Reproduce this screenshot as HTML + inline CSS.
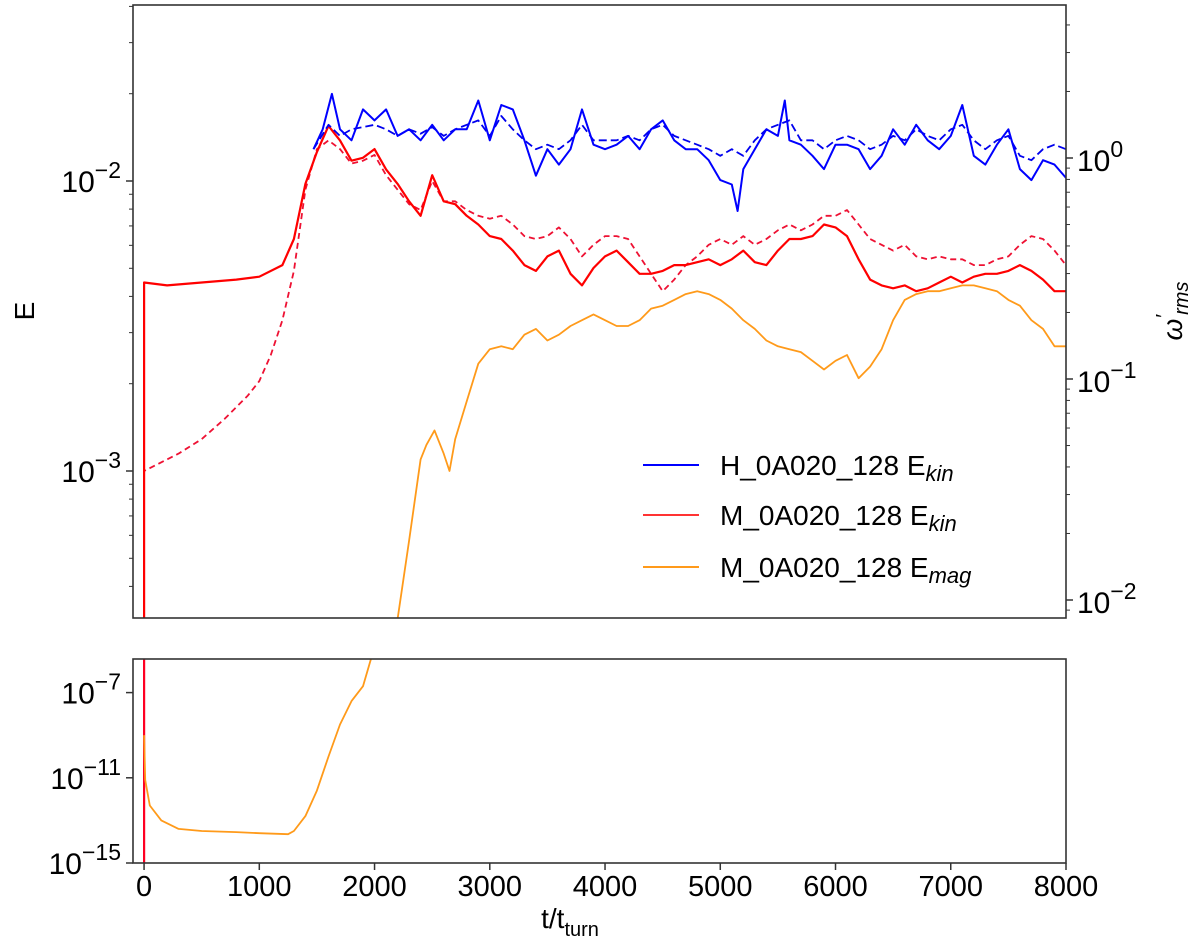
<!DOCTYPE html>
<html><head><meta charset="utf-8"><style>
html,body{margin:0;padding:0;background:#fff;}
svg{display:block;font-family:"Liberation Sans","DejaVu Sans",sans-serif;}
</style></head><body>
<svg id="chart" width="1200" height="952" viewBox="0 0 1200 952"></svg>
<script>
// ---- data (log10 values) ----
const tRedKin=[0,0,200,500,800,1000,1200,1300,1400,1500,1600,1700,1800,1900,2000,2100,2200,2300,2400,2500,2600,2700,2800,2900,3000,3100,3200,3300,3400,3500,3600,3700,3800,3900,4000,4100,4200,4300,4400,4500,4600,4700,4800,4900,5000,5100,5200,5300,5400,5500,5600,5700,5800,5900,6000,6100,6200,6300,6400,6500,6600,6700,6800,6900,7000,7100,7200,7300,7400,7500,7600,7700,7800,7900,8000];
const redKinLog=[-3.6,-2.35,-2.36,-2.35,-2.34,-2.33,-2.29,-2.20,-2.01,-1.90,-1.81,-1.86,-1.93,-1.92,-1.89,-1.96,-2.01,-2.07,-2.12,-1.98,-2.07,-2.08,-2.12,-2.15,-2.19,-2.20,-2.24,-2.29,-2.31,-2.26,-2.24,-2.32,-2.36,-2.30,-2.26,-2.24,-2.28,-2.32,-2.32,-2.31,-2.29,-2.29,-2.28,-2.27,-2.29,-2.27,-2.24,-2.28,-2.29,-2.24,-2.20,-2.20,-2.19,-2.15,-2.16,-2.19,-2.27,-2.34,-2.36,-2.37,-2.36,-2.38,-2.37,-2.35,-2.33,-2.35,-2.33,-2.32,-2.32,-2.31,-2.29,-2.31,-2.34,-2.38,-2.38];
const tRedDash=[0,0,100,300,500,700,900,1000,1100,1200,1300,1400,1500,1600,1700,1800,1900,2000,2100,2200,2300,2400,2500,2600,2700,2800,2900,3000,3100,3200,3300,3400,3500,3600,3700,3800,3900,4000,4100,4200,4300,4400,4500,4600,4700,4800,4900,5000,5100,5200,5300,5400,5500,5600,5700,5800,5900,6000,6100,6200,6300,6400,6500,6600,6700,6800,6900,7000,7100,7200,7300,7400,7500,7600,7700,7800,7900,8000];
const redDashLog=[-3.6,-3.00,-2.98,-2.94,-2.89,-2.82,-2.74,-2.69,-2.60,-2.48,-2.31,-2.03,-1.89,-1.86,-1.89,-1.94,-1.93,-1.91,-1.98,-2.03,-2.08,-2.10,-2.00,-2.07,-2.07,-2.10,-2.12,-2.13,-2.12,-2.15,-2.19,-2.20,-2.19,-2.16,-2.20,-2.26,-2.22,-2.19,-2.19,-2.20,-2.26,-2.32,-2.38,-2.34,-2.29,-2.26,-2.22,-2.20,-2.22,-2.19,-2.22,-2.20,-2.17,-2.15,-2.17,-2.15,-2.12,-2.12,-2.10,-2.15,-2.20,-2.22,-2.24,-2.22,-2.26,-2.27,-2.26,-2.27,-2.27,-2.29,-2.29,-2.27,-2.26,-2.22,-2.19,-2.20,-2.24,-2.29];
const tBlue=[1470,1550,1630,1700,1800,1900,2000,2100,2200,2300,2400,2500,2600,2700,2800,2900,3000,3100,3200,3300,3400,3500,3600,3700,3800,3900,4000,4100,4200,4300,4400,4500,4600,4700,4800,4900,5000,5100,5150,5200,5300,5400,5500,5560,5600,5700,5800,5900,6000,6100,6200,6300,6400,6500,6600,6700,6800,6900,7000,7100,7200,7300,7400,7500,7600,7700,7800,7900,8000];
const blueLog=[0.04,0.13,0.29,0.13,0.08,0.22,0.17,0.22,0.10,0.13,0.08,0.15,0.08,0.13,0.13,0.26,0.08,0.24,0.22,0.08,-0.08,0.04,-0.03,0.04,0.22,0.06,0.04,0.06,0.10,0.04,0.13,0.17,0.08,0.04,0.04,-0.01,-0.10,-0.12,-0.24,-0.05,0.04,0.13,0.10,0.26,0.08,0.06,0.01,-0.05,0.06,0.06,0.04,-0.05,0.01,0.13,0.06,0.15,0.08,0.04,0.10,0.24,0.01,-0.03,0.06,0.13,-0.05,-0.10,-0.01,-0.03,-0.09];
const tBlueDash=[1470,1600,1700,1800,1900,2000,2100,2200,2300,2400,2500,2600,2700,2800,2900,3000,3100,3200,3300,3400,3500,3600,3700,3800,3900,4000,4100,4200,4300,4400,4500,4600,4700,4800,4900,5000,5100,5200,5300,5400,5500,5600,5700,5800,5900,6000,6100,6200,6300,6400,6500,6600,6700,6800,6900,7000,7100,7200,7300,7400,7500,7600,7700,7800,7900,8000];
const blueDashLog=[0.04,0.15,0.10,0.13,0.14,0.15,0.13,0.10,0.13,0.11,0.14,0.10,0.13,0.15,0.17,0.10,0.19,0.13,0.08,0.04,0.06,0.04,0.08,0.15,0.08,0.08,0.08,0.10,0.08,0.13,0.15,0.10,0.08,0.06,0.04,0.01,0.04,0.01,0.08,0.13,0.15,0.17,0.08,0.08,0.04,0.08,0.10,0.08,0.04,0.06,0.10,0.08,0.13,0.10,0.08,0.13,0.15,0.08,0.04,0.08,0.10,0.01,-0.01,0.04,0.06,0.04];
const tMag=[2200,2300,2400,2450,2520,2600,2650,2700,2800,2900,3000,3100,3200,3300,3400,3500,3600,3700,3800,3900,4000,4100,4200,4300,4400,4500,4600,4700,4800,4900,5000,5100,5200,5300,5400,5500,5600,5700,5800,5900,6000,6100,6200,6300,6400,6500,6600,6700,6800,6900,7000,7100,7200,7300,7400,7500,7600,7700,7800,7900,8000];
const magLog=[-3.51,-3.24,-2.96,-2.91,-2.86,-2.94,-3.00,-2.89,-2.76,-2.63,-2.58,-2.57,-2.58,-2.53,-2.51,-2.55,-2.53,-2.50,-2.48,-2.46,-2.48,-2.50,-2.50,-2.48,-2.44,-2.43,-2.41,-2.39,-2.38,-2.39,-2.41,-2.44,-2.48,-2.51,-2.55,-2.57,-2.58,-2.59,-2.62,-2.65,-2.62,-2.60,-2.68,-2.64,-2.58,-2.48,-2.41,-2.39,-2.38,-2.38,-2.37,-2.36,-2.36,-2.37,-2.38,-2.41,-2.43,-2.48,-2.51,-2.57,-2.57];
const tMagEarly=[0,10,50,150,300,500,800,1000,1250,1300,1400,1500,1600,1700,1800,1900,1970];
const magEarlyLog=[-9.0,-11.1,-12.3,-13.0,-13.4,-13.5,-13.55,-13.6,-13.65,-13.5,-12.8,-11.6,-10.0,-8.5,-7.4,-6.7,-5.4];
const xTicks=[0,1000,2000,3000,4000,5000,6000,7000,8000];
const leftTicks=[-2,-3];
const rightTicks=[0,-1,-2];
const bottomTicks=[-7,-11,-15];

// ---- scales ----
const X0=133,X1=1066,T0=-96,T1=8000;
const sx=t=>X0+(t-T0)/(T1-T0)*(X1-X0);
const MT=5,MB=618;
const sL=l=>181-(l+2)*290;
const sR=l=>158-l*221;
const BT=659,BB=863;
const sB=l=>863-(l+15)*21.3;

const svg=document.getElementById('chart');
const NS='http://www.w3.org/2000/svg';
function mk(tag,attrs,parent){const e=document.createElementNS(NS,tag);for(const k in attrs)e.setAttribute(k,attrs[k]);(parent||svg).appendChild(e);return e;}

const defs=mk('defs',{});
const c1=mk('clipPath',{id:'cm'},defs);mk('rect',{x:X0,y:MT,width:X1-X0,height:MB-MT},c1);
const c2=mk('clipPath',{id:'cb'},defs);mk('rect',{x:X0,y:BT,width:X1-X0,height:BB-BT},c2);

function line(ts,vs,scale,color,dash,clip,name,w){
  const d=ts.map((t,i)=>(i?'L':'M')+sx(t).toFixed(1)+','+scale(vs[i]).toFixed(1)).join('');
  const p=mk('path',{d:d,fill:'none',stroke:color,'stroke-width':w||2,'clip-path':'url(#'+clip+')','stroke-linejoin':'round'});
  if(dash)p.setAttribute('stroke-dasharray',dash);
  
  
}
line(tMag,magLog,sL,'#ff9a1a',null,'cm','mag-energy-line',1.8);
line(tRedDash,redDashLog,sL,'#ee1133','6,4','cm','red-kin-dashed-line',1.8);
line(tRedKin,redKinLog,sL,'#ff0000',null,'cm','red-kin-line',2.2);
line(tBlueDash,blueDashLog,sR,'#0000ee','8,4','cm','blue-omega-dashed-line',1.8);
line(tBlue,blueLog,sR,'#0000ff',null,'cm','blue-kin-line',2);
line([0,0],[-15,-5],sB,'#ff0022',null,'cb','red-spike-bottom',2.2);
line(tMagEarly,magEarlyLog,sB,'#ff9a1a',null,'cb','mag-energy-early-line',1.8);

mk('rect',{x:X0,y:MT,width:X1-X0,height:MB-MT,fill:'none',stroke:'#333','stroke-width':1.6});
mk('rect',{x:X0,y:BT,width:X1-X0,height:BB-BT,fill:'none',stroke:'#333','stroke-width':1.6});

function txt(x,y,s,anchor,size,name){const e=mk('text',{x:x,y:y,'text-anchor':anchor,'font-size':size,fill:'#000'});e.innerHTML=s;return e;}
xTicks.forEach(t=>{const x=sx(t);mk('line',{x1:x,y1:BB,x2:x,y2:BB+7,stroke:'#333','stroke-width':1.5});txt(x,BB+33,t,'middle',29,'x-tick-label');});
leftTicks.forEach(l=>{const y=sL(l);mk('line',{x1:X0-7,y1:y,x2:X0,y2:y,stroke:'#333','stroke-width':1.5});txt(X0-12,y+11,'10<tspan dy="-14" font-size="23">−'+(-l)+'</tspan>','end',30,'left-tick-label');});
for(let d=-4;d<=-2;d++)for(let m=2;m<10;m++){const l=d+Math.log10(m);const y=sL(l);if(y>MT&&y<MB)mk('line',{x1:X0-4,y1:y,x2:X0,y2:y,stroke:'#333','stroke-width':1});}
rightTicks.forEach(l=>{const y=sR(l);mk('line',{x1:X1,y1:y,x2:X1+7,y2:y,stroke:'#333','stroke-width':1.5});txt(X1+11,y+13,'10<tspan dy="-14" font-size="23">'+(l<0?'−'+(-l):'0')+'</tspan>','start',30,'right-tick-label');});
for(let d=-3;d<=0;d++)for(let m=2;m<10;m++){const l=d+Math.log10(m);const y=sR(l);if(y>MT&&y<MB)mk('line',{x1:X1,y1:y,x2:X1+4,y2:y,stroke:'#333','stroke-width':1});}
bottomTicks.forEach(l=>{const y=sB(l);mk('line',{x1:X0-7,y1:y,x2:X0,y2:y,stroke:'#333','stroke-width':1.5});txt(X0-12,y+11,'10<tspan dy="-14" font-size="23">−'+(-l)+'</tspan>','end',30,'bottom-tick-label');});

txt(24,311,'E','middle',28,'y-axis-title').setAttribute('transform','rotate(-90 24 311) translate(0 10)');
const rt=txt(1172,311,'ω<tspan font-size="20" dy="-12">′</tspan><tspan font-size="20" dy="18" font-style="italic">rms</tspan>','middle',28,'right-axis-title');
rt.setAttribute('transform','rotate(-90 1172 311) translate(0 10)');
rt.setAttribute('font-style','italic');
txt(570,928,'t/t<tspan font-size="20" dy="8">turn</tspan>','middle',28,'x-axis-title');

const lg=mk('g',{});


[['#0000ff','H_0A020_128 E','kin',465],['#ff3333','M_0A020_128 E','kin',515],['#ff9a1a','M_0A020_128 E','mag',567]].forEach(r=>{
  const l=mk('line',{x1:643,y1:r[3],x2:699,y2:r[3],stroke:r[0],'stroke-width':2},lg);
  
  
  const t=txt(720,r[3]+10,r[1]+'<tspan font-size="22" dy="6" font-style="italic">'+r[2]+'</tspan>','start',28,'legend-entry');
  lg.appendChild(t);
});
</script>
</body></html>
